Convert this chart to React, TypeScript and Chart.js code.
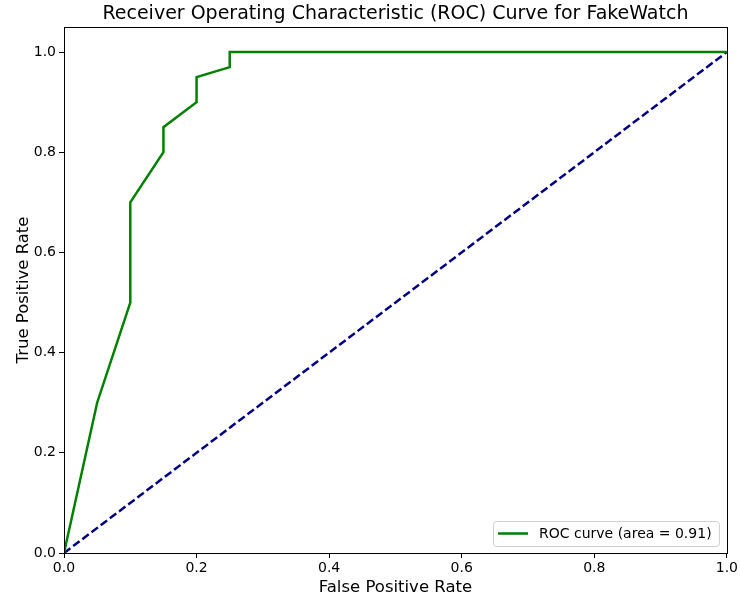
import React, { useEffect, useRef } from "react";
import { Chart, registerables } from "chart.js";

Chart.register(...registerables);

const rocFpr = [0, 0.05, 0.1, 0.1, 0.15, 0.15, 0.2, 0.2, 0.25, 0.25, 1.0];
const rocTpr = [0, 0.3, 0.5, 0.7, 0.8, 0.85, 0.9, 0.95, 0.97, 1.0, 1.0];
const diagX = [0, 1];
const diagY = [0, 1];
const tickValues = [0, 0.2, 0.4, 0.6, 0.8, 1.0];
const titleText = "Receiver Operating Characteristic (ROC) Curve for FakeWatch";
const legendLabel = "ROC curve (area = 0.91)";

const FONT = "'DejaVu Sans', sans-serif";

const framePlugin = {
  id: "frameAndExtras",
  afterDatasetsDraw(chart: any) {
    const { ctx, chartArea } = chart;
    ctx.save();
    ctx.strokeStyle = "#000";
    ctx.lineWidth = 1;
    ctx.strokeRect(
      Math.round(chartArea.left) + 0.5,
      Math.round(chartArea.top) + 0.5,
      Math.round(chartArea.right - chartArea.left),
      Math.round(chartArea.bottom - chartArea.top)
    );
    // title
    ctx.fillStyle = "#000";
    ctx.font = `19px ${FONT}`;
    ctx.textAlign = "center";
    ctx.textBaseline = "middle";
    ctx.fillText(titleText, (chartArea.left + chartArea.right) / 2, 14);
    // legend
    const bx = 493, by = 521, bw = 226, bh = 25;
    ctx.fillStyle = "rgba(255,255,255,0.8)";
    ctx.strokeStyle = "#d0d0d0";
    ctx.lineWidth = 1;
    ctx.beginPath();
    if ((ctx as any).roundRect) {
      (ctx as any).roundRect(bx + 0.5, by + 0.5, bw, bh, 3);
    } else {
      ctx.rect(bx + 0.5, by + 0.5, bw, bh);
    }
    ctx.fill();
    ctx.stroke();
    ctx.strokeStyle = "green";
    ctx.lineWidth = 2.5;
    ctx.beginPath();
    ctx.moveTo(498, 533.5);
    ctx.lineTo(528, 533.5);
    ctx.stroke();
    ctx.fillStyle = "#000";
    ctx.font = `14px ${FONT}`;
    ctx.textAlign = "left";
    ctx.textBaseline = "middle";
    ctx.fillText(legendLabel, 539, 534);
    ctx.restore();
  },
};

export default function App() {
  const ref = useRef<HTMLCanvasElement | null>(null);
  useEffect(() => {
    document.body.style.margin = "0";
    const canvas = ref.current;
    if (!canvas) return;
    const chart = new Chart(canvas, {
      type: "scatter",
      data: {
        datasets: [
          {
            label: legendLabel,
            data: rocFpr.map((x, i) => ({ x, y: rocTpr[i] })),
            showLine: true,
            borderColor: "green",
            backgroundColor: "green",
            borderWidth: 2.5,
            pointRadius: 0,
            tension: 0,
          },
          {
            label: "diag",
            data: diagX.map((x, i) => ({ x, y: diagY[i] })),
            showLine: true,
            borderColor: "navy",
            backgroundColor: "navy",
            borderWidth: 2.5,
            borderDash: [8, 3.5],
            pointRadius: 0,
          },
        ],
      },
      options: {
        responsive: false,
        animation: false,
        layout: { padding: { top: 27, right: 13, left: 0, bottom: 0 } },
        plugins: {
          legend: { display: false },
          title: { display: false },
          tooltip: { enabled: false },
        },
        scales: {
          x: {
            type: "linear",
            min: 0,
            max: 1,
            afterBuildTicks: (s: any) => {
              s.ticks = tickValues.map((v) => ({ value: v }));
            },
            afterFit: (s: any) => {
              s.height = 46;
            },
            ticks: {
              callback: (v: any) => Number(v).toFixed(1),
              color: "#000",
              font: { family: FONT, size: 14 },
              padding: 2,
              maxRotation: 0,
            },
            grid: {
              drawOnChartArea: false,
              drawTicks: true,
              tickLength: 5,
              color: "#000",
            },
            border: { display: false },
            title: {
              display: true,
              text: "False Positive Rate",
              color: "#000",
              font: { family: FONT, size: 16.5 },
              padding: { top: 0, bottom: 1 },
            },
          },
          y: {
            type: "linear",
            min: 0,
            max: 1.05,
            afterBuildTicks: (s: any) => {
              s.ticks = tickValues.map((v) => ({ value: v }));
            },
            afterFit: (s: any) => {
              s.width = 64;
            },
            ticks: {
              callback: (v: any) => Number(v).toFixed(1),
              color: "#000",
              font: { family: FONT, size: 14 },
              padding: 3,
            },
            grid: {
              drawOnChartArea: false,
              drawTicks: true,
              tickLength: 5,
              color: "#000",
            },
            border: { display: false },
            title: {
              display: true,
              text: "True Positive Rate",
              color: "#000",
              font: { family: FONT, size: 16.5 },
              padding: { top: 14, bottom: 0 },
            },
          },
        },
      },
      plugins: [framePlugin],
    });
    return () => chart.destroy();
  }, []);
  return (
    <div style={{ position: "absolute", left: 0, top: 0, width: 740, height: 599 }}>
      <canvas ref={ref} width={740} height={599} />
    </div>
  );
}
